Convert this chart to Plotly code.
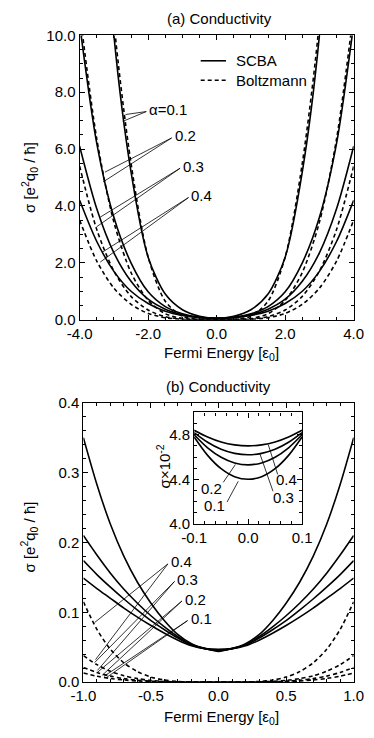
import plotly.graph_objects as go

FONT = "Liberation Sans, Arial, sans-serif"
W, H = 374, 738

# ---- panel (a): wide energy range ----
E_A = [-4.0, -3.5, -3.0, -2.5, -2.0, -1.5, -1.0, -0.5, 0.0, 0.5, 1.0, 1.5, 2.0, 2.5, 3.0, 3.5, 4.0]
SCBA_A = {
    "0.1": [31, 18.5, 10.0, 5.2, 2.2, 0.9, 0.35, 0.12, 0.045, 0.12, 0.35, 0.9, 2.2, 5.2, 10.0, 18.5, 31],
    "0.2": [10.4, 6.2, 3.6, 2.0, 0.98, 0.46, 0.21, 0.085, 0.045, 0.085, 0.21, 0.46, 0.98, 2.0, 3.6, 6.2, 10.4],
    "0.3": [6.1, 3.9, 2.35, 1.35, 0.72, 0.37, 0.175, 0.075, 0.045, 0.075, 0.175, 0.37, 0.72, 1.35, 2.35, 3.9, 6.1],
    "0.4": [4.2, 2.75, 1.7, 1.0, 0.57, 0.3, 0.15, 0.07, 0.045, 0.07, 0.15, 0.3, 0.57, 1.0, 1.7, 2.75, 4.2],
}
BOLTZ_A = {
    "0.1": [33, 19.5, 10.5, 5.5, 2.2, 0.65, 0.12, 0.008, 0.0, 0.008, 0.12, 0.65, 2.2, 5.5, 10.5, 19.5, 33],
    "0.2": [10.85, 6.36, 3.43, 1.66, 0.68, 0.21, 0.042, 0.003, 0.0, 0.003, 0.042, 0.21, 0.68, 1.66, 3.43, 6.36, 10.85],
    "0.3": [5.4, 3.17, 1.71, 0.82, 0.34, 0.107, 0.021, 0.0013, 0.0, 0.0013, 0.021, 0.107, 0.34, 0.82, 1.71, 3.17, 5.4],
    "0.4": [3.5, 2.06, 1.11, 0.54, 0.22, 0.069, 0.014, 0.0009, 0.0, 0.0009, 0.014, 0.069, 0.22, 0.54, 1.11, 2.06, 3.5],
}

# ---- panel (b): low energy range ----
E_B = [-1.0, -0.9, -0.8, -0.7, -0.6, -0.5, -0.4, -0.3, -0.2, -0.1, 0.0,
       0.1, 0.2, 0.3, 0.4, 0.5, 0.6, 0.7, 0.8, 0.9, 1.0]
SCBA_B = {
    "0.1": [0.35, 0.283, 0.226, 0.18, 0.143, 0.113, 0.088, 0.068, 0.055, 0.048, 0.044,
            0.048, 0.055, 0.068, 0.088, 0.113, 0.143, 0.18, 0.226, 0.283, 0.35],
    "0.2": [0.21, 0.182, 0.156, 0.133, 0.113, 0.095, 0.079, 0.065, 0.054, 0.048, 0.0453,
            0.048, 0.054, 0.065, 0.079, 0.095, 0.113, 0.133, 0.156, 0.182, 0.21],
    "0.3": [0.174, 0.154, 0.136, 0.119, 0.103, 0.088, 0.075, 0.063, 0.053, 0.048, 0.0462,
            0.048, 0.053, 0.063, 0.075, 0.088, 0.103, 0.119, 0.136, 0.154, 0.174],
    "0.4": [0.149, 0.134, 0.12, 0.106, 0.093, 0.081, 0.07, 0.06, 0.052, 0.048, 0.047,
            0.048, 0.052, 0.06, 0.07, 0.081, 0.093, 0.106, 0.12, 0.134, 0.149],
}
BOLTZ_B = {
    "0.1": [0.115, 0.0755, 0.047, 0.0276, 0.015, 0.0072, 0.003, 0.0009, 0.0002, 0.0, 0.0,
            0.0, 0.0002, 0.0009, 0.003, 0.0072, 0.015, 0.0276, 0.047, 0.0755, 0.115],
    "0.2": [0.038, 0.025, 0.0156, 0.0091, 0.005, 0.0024, 0.001, 0.0003, 0.0001, 0.0, 0.0,
            0.0, 0.0001, 0.0003, 0.001, 0.0024, 0.005, 0.0091, 0.0156, 0.025, 0.038],
    "0.3": [0.021, 0.0138, 0.0086, 0.005, 0.0027, 0.0013, 0.0005, 0.0002, 0.0, 0.0, 0.0,
            0.0, 0.0, 0.0002, 0.0005, 0.0013, 0.0027, 0.005, 0.0086, 0.0138, 0.021],
    "0.4": [0.013, 0.0085, 0.0053, 0.0031, 0.0017, 0.0008, 0.0003, 0.0001, 0.0, 0.0, 0.0,
            0.0, 0.0, 0.0001, 0.0003, 0.0008, 0.0017, 0.0031, 0.0053, 0.0085, 0.013],
}

# ---- inset: sigma x 10^-2 near zero energy ----
E_IN = [-0.1, -0.075, -0.05, -0.025, 0.0, 0.025, 0.05, 0.075, 0.1]
SCBA_IN = {
    "0.1": [4.78, 4.615, 4.495, 4.423, 4.40, 4.423, 4.495, 4.615, 4.78],
    "0.2": [4.80, 4.683, 4.598, 4.547, 4.53, 4.547, 4.598, 4.683, 4.80],
    "0.3": [4.82, 4.733, 4.67, 4.633, 4.62, 4.633, 4.67, 4.733, 4.82],
    "0.4": [4.84, 4.78, 4.735, 4.709, 4.70, 4.709, 4.735, 4.78, 4.84],
}

# tick labels (plain hyphen minus, as in the figure)
A_XTICKS = [-4, -2, 0, 2, 4]
A_XLABELS = ["-4.0", "-2.0", "0.0", "2.0", "4.0"]
A_YTICKS = [0, 2, 4, 6, 8, 10]
A_YLABELS = ["0.0", "2.0", "4.0", "6.0", "8.0", "10.0"]
B_XTICKS = [-1, -0.5, 0, 0.5, 1]
B_XLABELS = ["-1.0", "-0.5", "0.0", "0.5", "1.0"]
B_YTICKS = [0, 0.1, 0.2, 0.3, 0.4]
B_YLABELS = ["0.0", "0.1", "0.2", "0.3", "0.4"]
IN_XTICKS = [-0.1, 0, 0.1]
IN_XLABELS = ["-0.1", "0.0", "0.1"]
IN_YTICKS = [4.0, 4.4, 4.8]
IN_YLABELS = ["4.0", "4.4", "4.8"]

DASH = "4px,3px"
LW = 1.6


def px_dom(lo, hi, total):
    return [lo / total, hi / total]


def py_dom(top, bottom):
    return [1 - bottom / H, 1 - top / H]


fig = go.Figure()


def add_set(x, curves, xa, ya, dash=None):
    for alpha, ys in curves.items():
        fig.add_trace(
            go.Scatter(
                x=x, y=ys, mode="lines", xaxis=xa, yaxis=ya,
                line=dict(color="black", width=LW, dash=dash or "solid", shape="spline", smoothing=0.8),
                name=f"α={alpha}", showlegend=False,
                hovertemplate="α=" + alpha + "<br>%{x}, %{y}<extra></extra>",
            )
        )


add_set(E_A, SCBA_A, "x", "y")
add_set(E_A, BOLTZ_A, "x", "y", dash=DASH)
add_set(E_B, SCBA_B, "x2", "y2")
add_set(E_B, BOLTZ_B, "x2", "y2", dash=DASH)
add_set(E_IN, SCBA_IN, "x3", "y3")

# leader lines: (label, apex, [ends]) in data coordinates of each panel
LABELS_A = [
    ("α=0.1", (-2.055, 7.32), [(-2.658, 7.216), (-2.740, 6.976)]),
    ("0.2", (-1.315, 6.392), [(-3.26, 5.19), (-3.315, 4.845)]),
    ("0.3", (-1.068, 5.326), [(-3.397, 3.608), (-3.507, 3.265)]),
    ("0.4", (-0.822, 4.296), [(-3.342, 2.371), (-3.397, 2.027)]),
]
LABELS_B = [
    ("0.4", (-0.375, 0.1692), [(-0.917, 0.0853), (-0.910, 0.0322)]),
    ("0.3", (-0.326, 0.1441), [(-0.917, 0.028), (-0.896, 0.0168)]),
    ("0.2", (-0.271, 0.1161), [(-0.896, 0.014), (-0.861, 0.0098)]),
    ("0.1", (-0.229, 0.0881), [(-0.847, 0.0084), (-0.826, 0.007)]),
]
# inset: (label, text pos, line start, line end)
LABELS_IN = [
    ("0.2", (-0.067, 4.32), (-0.046, 4.373), (-0.0235, 4.533)),
    ("0.1", (-0.0617, 4.169), (-0.039, 4.196), (-0.0183, 4.382)),
    ("0.4", (0.0704, 4.40), (0.0548, 4.444), (0.0374, 4.711)),
    ("0.3", (0.0652, 4.24), (0.0461, 4.293), (0.0217, 4.631)),
]

lbl_font = dict(family=FONT, size=15, color="black")
for labels, xr, yr in [(LABELS_A, "x", "y"), (LABELS_B, "x2", "y2")]:
    for text, (ax0, ay0), ends in labels:
        for ex, ey in ends:
            fig.add_shape(type="line", xref=xr, yref=yr, x0=ax0, y0=ay0, x1=ex, y1=ey,
                          line=dict(color="black", width=0.8))
        fig.add_annotation(x=ax0, y=ay0, xref=xr, yref=yr, text=text, showarrow=False,
                           xanchor="left", yanchor="middle", xshift=1, yshift=2, font=lbl_font)
for text, (tx, ty), (x0, y0), (x1, y1) in LABELS_IN:
    fig.add_shape(type="line", xref="x3", yref="y3", x0=x0, y0=y0, x1=x1, y1=y1,
                  line=dict(color="black", width=0.8))
    fig.add_annotation(x=tx, y=ty, xref="x3", yref="y3", text=text, showarrow=False,
                       xanchor="center", yanchor="middle", font=lbl_font)

# legend of panel (a), drawn by hand so it sits where the original has it
for name, y, dash in [("SCBA", 53, "solid"), ("Boltzmann", 73, DASH)]:
    fig.add_shape(type="line", xref="paper", yref="paper", x0=200 / W, x1=227 / W,
                  y0=1 - y / H, y1=1 - y / H, line=dict(color="black", width=LW, dash=dash))
    fig.add_annotation(x=235 / W, y=1 - y / H, xref="paper", yref="paper", text=name,
                       showarrow=False, xanchor="left", yanchor="middle", font=lbl_font)

# titles
titles = [
    ("(a) Conductivity", 220, 10, 0),
    ("(b) Conductivity", 219, 386, 0),
    ("Fermi Energy [ε<sub>0</sub>]", 222, 353, 0),
    ("Fermi Energy [ε<sub>0</sub>]", 222, 725, 0),
    ("σ [e<sup>2</sup>q<sub>0</sub> / ħ]", 17, 172, -90),
    ("σ [e<sup>2</sup>q<sub>0</sub> / ħ]", 17, 540, -90),
    ("σ×10<sup>-2</sup>", 160, 468, -90),
]
for text, x, y, ang in titles:
    fig.add_annotation(x=x / W, y=1 - y / H, xref="paper", yref="paper", text=text,
                       showarrow=False, textangle=ang, xanchor="center", yanchor="middle",
                       font=dict(family=FONT, size=15, color="black"))


def axis_style(domain, rng, tickvals, ticktext, minor_dtick, anchor):
    return dict(
        domain=domain, range=rng, anchor=anchor,
        tickmode="array", tickvals=tickvals, ticktext=ticktext,
        showline=True, linecolor="black", linewidth=1.2, mirror="ticks",
        ticks="inside", ticklen=5, tickwidth=1, tickcolor="black",
        minor=dict(ticks="inside", ticklen=3, tickwidth=1, tickcolor="black", dtick=minor_dtick, showgrid=False),
        showgrid=False, zeroline=False,
        tickfont=dict(family=FONT, size=15, color="black"),
    )


fig.update_layout(
    width=W, height=H,
    margin=dict(l=0, r=0, t=0, b=0),
    paper_bgcolor="white", plot_bgcolor="white",
    showlegend=False,
    xaxis=axis_style(px_dom(71, 363, W), [-4, 4], A_XTICKS, A_XLABELS, 0.5, "y"),
    yaxis=axis_style(py_dom(27, 318), [0, 10], A_YTICKS, A_YLABELS, 0.5, "x"),
    xaxis2=axis_style(px_dom(75, 363, W), [-1, 1], B_XTICKS, B_XLABELS, 0.1, "y2"),
    yaxis2=axis_style(py_dom(403, 689), [0, 0.4], B_YTICKS, B_YLABELS, 0.02, "x2"),
    xaxis3=axis_style(px_dom(193, 308, W), [-0.1, 0.1], IN_XTICKS, IN_XLABELS, 0.02, "y3"),
    yaxis3=axis_style(py_dom(413, 527), [4.0, 5.0], IN_YTICKS, IN_YLABELS, 0.1, "x3"),
)

fig.write_html("out.html", config={"displayModeBar": False},
               post_script="document.body.style.margin='0px';")
